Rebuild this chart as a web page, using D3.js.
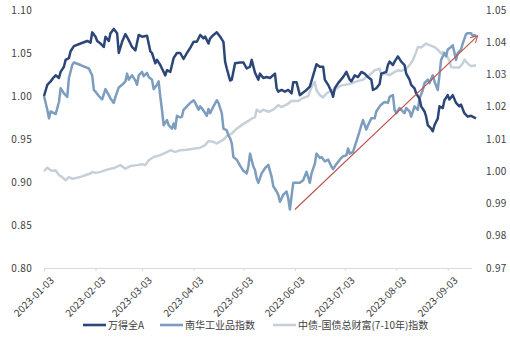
<!DOCTYPE html>
<html>
<head>
<meta charset="utf-8">
<script src="https://cdn.jsdelivr.net/npm/d3@7"></script>
<style>
  html, body { margin: 0; padding: 0; background: #fff; }
  svg { display: block; }
  text { font-family: "Noto Sans CJK SC", "Noto Sans", sans-serif; }
</style>
</head>
<body>
<svg id="chart" width="510" height="341"></svg>
<script>
// Series names (legend order)
const seriesNames = ["万得全A", "南华工业品指数", "中债-国债总财富(7-10年)指数"];

// 万得全A (left axis), normalised to 2023-01-03 = 1
const windA = [
  ["2023-01-03",1.000],["2023-01-05",1.013],["2023-01-07",1.017],["2023-01-09",1.022],["2023-01-10",1.024],
  ["2023-01-12",1.021],["2023-01-13",1.028],["2023-01-15",1.034],["2023-01-16",1.042],["2023-01-18",1.044],
  ["2023-01-19",1.052],["2023-01-21",1.058],["2023-01-25",1.061],["2023-01-29",1.064],["2023-01-31",1.062],
  ["2023-02-01",1.074],["2023-02-03",1.069],["2023-02-04",1.064],["2023-02-06",1.061],["2023-02-08",1.057],
  ["2023-02-09",1.069],["2023-02-11",1.064],["2023-02-12",1.073],["2023-02-14",1.078],["2023-02-16",1.073],
  ["2023-02-17",1.050],["2023-02-19",1.063],["2023-02-21",1.072],["2023-02-23",1.065],["2023-02-25",1.057],
  ["2023-02-27",1.053],["2023-03-01",1.071],["2023-03-03",1.069],["2023-03-06",1.070],["2023-03-08",1.052],
  ["2023-03-09",1.050],["2023-03-11",1.038],["2023-03-12",1.042],["2023-03-14",1.036],["2023-03-15",1.032],
  ["2023-03-17",1.024],["2023-03-18",1.030],["2023-03-20",1.028],["2023-03-22",1.044],["2023-03-24",1.050],
  ["2023-03-26",1.050],["2023-03-28",1.043],["2023-03-30",1.050],["2023-04-01",1.056],["2023-04-03",1.063],
  ["2023-04-05",1.063],["2023-04-07",1.071],["2023-04-09",1.067],["2023-04-10",1.069],["2023-04-12",1.061],
  ["2023-04-13",1.067],["2023-04-15",1.071],["2023-04-17",1.074],["2023-04-19",1.069],["2023-04-21",1.063],
  ["2023-04-22",1.040],["2023-04-23",1.032],["2023-04-25",1.018],["2023-04-26",1.019],["2023-04-28",1.038],
  ["2023-05-01",1.039],["2023-05-03",1.039],["2023-05-05",1.032],["2023-05-07",1.034],["2023-05-08",1.042],
  ["2023-05-10",1.027],["2023-05-12",1.019],["2023-05-13",1.026],["2023-05-15",1.021],["2023-05-17",1.022],
  ["2023-05-19",1.021],["2023-05-22",1.026],["2023-05-23",1.009],["2023-05-24",1.005],["2023-05-26",1.007],
  ["2023-05-28",1.005],["2023-05-30",1.007],["2023-06-01",1.003],["2023-06-02",1.016],["2023-06-04",1.016],
  ["2023-06-06",1.001],["2023-06-08",1.004],["2023-06-10",1.007],["2023-06-12",1.011],["2023-06-14",1.024],
  ["2023-06-16",1.037],["2023-06-18",1.034],["2023-06-20",1.034],["2023-06-21",1.019],["2023-06-23",1.013],
  ["2023-06-25",1.005],["2023-06-26",0.999],["2023-06-27",1.009],["2023-06-29",1.015],["2023-07-02",1.022],
  ["2023-07-04",1.028],["2023-07-06",1.019],["2023-07-07",1.017],["2023-07-09",1.024],["2023-07-11",1.022],
  ["2023-07-13",1.028],["2023-07-15",1.026],["2023-07-17",1.022],["2023-07-19",1.019],["2023-07-20",1.007],
  ["2023-07-22",1.009],["2023-07-24",1.014],["2023-07-25",1.026],["2023-07-28",1.028],["2023-07-29",1.036],
  ["2023-07-30",1.040],["2023-08-01",1.036],["2023-08-02",1.040],["2023-08-04",1.046],["2023-08-06",1.040],
  ["2023-08-08",1.036],["2023-08-09",1.026],["2023-08-11",1.019],["2023-08-12",1.013],["2023-08-14",1.009],
  ["2023-08-15",1.003],["2023-08-17",0.997],["2023-08-18",0.988],["2023-08-20",0.982],["2023-08-21",0.976],
  ["2023-08-22",0.966],["2023-08-24",0.962],["2023-08-25",0.959],["2023-08-26",0.966],["2023-08-28",0.974],
  ["2023-08-29",0.988],["2023-08-31",0.986],["2023-09-01",0.995],["2023-09-03",1.001],["2023-09-04",0.996],
  ["2023-09-06",1.001],["2023-09-08",0.992],["2023-09-10",0.988],["2023-09-11",0.990],["2023-09-13",0.980],
  ["2023-09-15",0.976],["2023-09-17",0.977],["2023-09-20",0.974]
];

// 南华工业品指数 (left axis)
const nanhua = [
  ["2023-01-03",1.000],["2023-01-05",0.984],["2023-01-06",0.974],["2023-01-07",0.982],["2023-01-09",0.980],
  ["2023-01-10",0.979],["2023-01-12",0.993],["2023-01-13",1.009],["2023-01-15",1.003],["2023-01-17",0.999],
  ["2023-01-18",1.021],["2023-01-20",1.036],["2023-01-21",1.039],["2023-01-25",1.036],["2023-01-30",1.032],
  ["2023-02-01",1.024],["2023-02-02",1.007],["2023-02-03",1.005],["2023-02-05",1.000],["2023-02-07",0.996],
  ["2023-02-09",1.008],["2023-02-11",1.001],["2023-02-12",0.997],["2023-02-14",0.992],["2023-02-15",0.999],
  ["2023-02-17",1.010],["2023-02-19",1.013],["2023-02-21",1.017],["2023-02-22",1.026],["2023-02-23",1.019],
  ["2023-02-25",1.024],["2023-02-27",1.018],["2023-02-28",1.013],["2023-03-01",1.024],["2023-03-03",1.028],
  ["2023-03-04",1.023],["2023-03-06",1.027],["2023-03-07",1.022],["2023-03-09",1.019],["2023-03-10",1.008],
  ["2023-03-12",1.013],["2023-03-13",1.017],["2023-03-14",0.999],["2023-03-15",0.984],["2023-03-16",0.966],
  ["2023-03-18",0.972],["2023-03-19",0.966],["2023-03-21",0.962],["2023-03-22",0.968],["2023-03-23",0.962],
  ["2023-03-24",0.977],["2023-03-26",0.975],["2023-03-27",0.976],["2023-03-28",0.984],["2023-03-30",0.988],
  ["2023-04-01",0.992],["2023-04-03",0.995],["2023-04-04",0.992],["2023-04-06",0.984],["2023-04-07",0.988],
  ["2023-04-09",0.983],["2023-04-11",0.977],["2023-04-12",0.985],["2023-04-13",0.980],["2023-04-15",0.988],
  ["2023-04-17",0.995],["2023-04-18",0.992],["2023-04-20",0.980],["2023-04-21",0.962],["2023-04-23",0.960],
  ["2023-04-24",0.954],["2023-04-25",0.951],["2023-04-26",0.945],["2023-04-27",0.929],["2023-04-29",0.926],
  ["2023-05-01",0.919],["2023-05-03",0.913],["2023-05-05",0.910],["2023-05-06",0.918],["2023-05-07",0.933],
  ["2023-05-09",0.918],["2023-05-10",0.914],["2023-05-11",0.904],["2023-05-12",0.899],["2023-05-14",0.910],
  ["2023-05-16",0.916],["2023-05-18",0.920],["2023-05-20",0.906],["2023-05-21",0.895],["2023-05-23",0.889],
  ["2023-05-24",0.885],["2023-05-25",0.877],["2023-05-27",0.885],["2023-05-29",0.889],["2023-05-30",0.881],
  ["2023-05-31",0.868],["2023-06-02",0.899],["2023-06-04",0.899],["2023-06-06",0.899],["2023-06-08",0.902],
  ["2023-06-10",0.912],["2023-06-12",0.899],["2023-06-13",0.910],["2023-06-15",0.921],["2023-06-16",0.933],
  ["2023-06-18",0.928],["2023-06-19",0.929],["2023-06-21",0.924],["2023-06-23",0.926],["2023-06-25",0.918],
  ["2023-06-26",0.915],["2023-06-28",0.921],["2023-06-30",0.926],["2023-07-02",0.930],["2023-07-04",0.931],
  ["2023-07-05",0.939],["2023-07-06",0.933],["2023-07-08",0.935],["2023-07-09",0.941],["2023-07-11",0.953],
  ["2023-07-13",0.966],["2023-07-14",0.972],["2023-07-16",0.961],["2023-07-17",0.966],["2023-07-19",0.974],
  ["2023-07-21",0.974],["2023-07-22",0.982],["2023-07-24",0.988],["2023-07-25",0.990],["2023-07-27",0.993],
  ["2023-07-29",0.992],["2023-07-30",0.999],["2023-08-01",1.001],["2023-08-02",0.984],["2023-08-03",0.980],
  ["2023-08-05",0.986],["2023-08-06",0.984],["2023-08-08",0.980],["2023-08-09",0.986],["2023-08-11",0.982],
  ["2023-08-12",0.976],["2023-08-14",0.988],["2023-08-16",0.984],["2023-08-17",0.997],["2023-08-19",1.007],
  ["2023-08-20",1.015],["2023-08-22",1.019],["2023-08-23",1.015],["2023-08-25",1.024],["2023-08-26",1.017],
  ["2023-08-28",1.007],["2023-08-29",1.024],["2023-08-30",1.042],["2023-09-01",1.050],["2023-09-02",1.046],
  ["2023-09-03",1.054],["2023-09-05",1.057],["2023-09-06",1.059],["2023-09-08",1.042],["2023-09-09",1.050],
  ["2023-09-11",1.054],["2023-09-12",1.061],["2023-09-14",1.072],["2023-09-15",1.073],["2023-09-17",1.073],
  ["2023-09-18",1.070],["2023-09-20",1.071]
];

// 中债-国债总财富(7-10年)指数 (right axis)
const cbond = [
  ["2023-01-03",1.0000],["2023-01-05",1.0011],["2023-01-07",1.0003],["2023-01-09",1.0001],["2023-01-10",1.0003],
  ["2023-01-12",0.9988],["2023-01-14",0.9982],["2023-01-16",0.9972],["2023-01-18",0.9982],["2023-01-20",0.9977],
  ["2023-01-23",0.9980],["2023-01-26",0.9984],["2023-01-29",0.9990],["2023-01-31",0.9993],["2023-02-01",0.9998],
  ["2023-02-03",0.9995],["2023-02-06",0.9998],["2023-02-10",1.0005],["2023-02-14",1.0010],["2023-02-18",1.0019],
  ["2023-02-21",1.0008],["2023-02-24",1.0016],["2023-02-28",1.0019],["2023-03-03",1.0022],["2023-03-05",1.0019],
  ["2023-03-07",1.0034],["2023-03-10",1.0044],["2023-03-14",1.0050],["2023-03-17",1.0057],["2023-03-20",1.0065],
  ["2023-03-23",1.0060],["2023-03-26",1.0065],["2023-03-30",1.0067],["2023-04-03",1.0070],["2023-04-07",1.0073],
  ["2023-04-10",1.0081],["2023-04-12",1.0094],["2023-04-15",1.0091],["2023-04-17",1.0086],["2023-04-21",1.0098],
  ["2023-04-23",1.0109],["2023-04-26",1.0117],["2023-04-29",1.0132],["2023-05-02",1.0143],["2023-05-05",1.0153],
  ["2023-05-08",1.0163],["2023-05-10",1.0168],["2023-05-11",1.0191],["2023-05-13",1.0184],["2023-05-15",1.0191],
  ["2023-05-18",1.0184],["2023-05-21",1.0191],["2023-05-24",1.0205],["2023-05-26",1.0199],["2023-05-30",1.0210],
  ["2023-06-01",1.0218],["2023-06-05",1.0218],["2023-06-07",1.0225],["2023-06-11",1.0233],["2023-06-13",1.0261],
  ["2023-06-15",1.0277],["2023-06-16",1.0251],["2023-06-18",1.0236],["2023-06-20",1.0229],["2023-06-22",1.0241],
  ["2023-06-25",1.0251],["2023-06-27",1.0253],["2023-06-30",1.0264],["2023-07-02",1.0267],["2023-07-05",1.0270],
  ["2023-07-08",1.0274],["2023-07-11",1.0280],["2023-07-14",1.0284],["2023-07-16",1.0292],["2023-07-19",1.0303],
  ["2023-07-21",1.0313],["2023-07-24",1.0318],["2023-07-25",1.0298],["2023-07-27",1.0303],["2023-07-30",1.0298],
  ["2023-08-01",1.0305],["2023-08-04",1.0313],["2023-08-06",1.0311],["2023-08-09",1.0318],["2023-08-11",1.0329],
  ["2023-08-13",1.0344],["2023-08-15",1.0370],["2023-08-16",1.0385],["2023-08-18",1.0384],["2023-08-21",1.0396],
  ["2023-08-23",1.0391],["2023-08-26",1.0385],["2023-08-28",1.0377],["2023-08-30",1.0365],["2023-08-31",1.0370],
  ["2023-09-02",1.0360],["2023-09-04",1.0344],["2023-09-05",1.0323],["2023-09-07",1.0322],["2023-09-10",1.0322],
  ["2023-09-12",1.0334],["2023-09-13",1.0346],["2023-09-15",1.0334],["2023-09-17",1.0326],["2023-09-20",1.0329]
];

// Trend arrow drawn over the industrial commodity index (left axis)
const trendArrow = [["2023-06-03", 0.868], ["2023-09-21", 1.070]];

// Axis ticks
const xTickLabels = ["2023-01-03","2023-02-03","2023-03-03","2023-04-03","2023-05-03",
                     "2023-06-03","2023-07-03","2023-08-03","2023-09-03"];
const leftTicks  = [0.80, 0.85, 0.90, 0.95, 1.00, 1.05, 1.10];
const rightTicks = [0.97, 0.98, 0.99, 1.00, 1.01, 1.02, 1.03, 1.04, 1.05];
const xDomain = ["2023-01-03", "2023-09-20"];

const colors = ["#2c4678", "#7c9dbd", "#c6d0d9"];

const parse = d3.timeParse("%Y-%m-%d");
const svg = d3.select("#chart");

const x = d3.scaleTime().domain(xDomain.map(parse)).range([44, 476]);
const yL = d3.scaleLinear().domain([0.80, 1.10]).range([268, 10]);
const yR = d3.scaleLinear().domain([0.97, 1.05]).range([268, 10]);

// Bottom axis
const xAxis = d3.axisBottom(x)
  .tickValues(xTickLabels.map(parse))
  .tickFormat(d3.timeFormat("%Y-%m-%d"))
  .tickSizeOuter(0).tickSizeInner(3);
const gx = svg.append("g").attr("transform", "translate(0,268)").call(xAxis);
gx.select(".domain").attr("stroke", "#d9d9d9").attr("d", "M44.5,0.5H472");
gx.selectAll(".tick line").attr("stroke", "#d9d9d9");
gx.selectAll(".tick text")
  .attr("fill", "#404040").attr("font-size", 10)
  .attr("text-anchor", "end")
  .attr("transform", "translate(3,6) rotate(-45)")
  .attr("dx", 0).attr("dy", "0.6em").attr("y", 4).attr("x", 0);

// Left axis (labels only)
const gl = svg.append("g").attr("transform", "translate(32,0)")
  .call(d3.axisLeft(yL).tickValues(leftTicks).tickFormat(d3.format(".2f")).tickSize(0).tickPadding(0));
gl.select(".domain").remove();
gl.selectAll("text").attr("fill", "#404040").attr("font-size", 10).attr("letter-spacing", "0.3px");

// Right axis (labels only)
const gr = svg.append("g").attr("transform", "translate(486,0)")
  .call(d3.axisRight(yR).tickValues(rightTicks).tickFormat(d3.format(".2f")).tickSize(0).tickPadding(0));
gr.select(".domain").remove();
gr.selectAll("text").attr("fill", "#404040").attr("font-size", 10).attr("letter-spacing", "0.3px");

// Lines
const lineL = d3.line().x(d => x(parse(d[0]))).y(d => yL(d[1]));
const lineR = d3.line().x(d => x(parse(d[0]))).y(d => yR(d[1]));

svg.append("path").datum(cbond).attr("d", lineR)
  .attr("fill", "none").attr("stroke", colors[2]).attr("stroke-width", 2.5).attr("stroke-linejoin", "round");
svg.append("path").datum(nanhua).attr("d", lineL)
  .attr("fill", "none").attr("stroke", colors[1]).attr("stroke-width", 2.5).attr("stroke-linejoin", "round");
svg.append("path").datum(windA).attr("d", lineL)
  .attr("fill", "none").attr("stroke", colors[0]).attr("stroke-width", 2.5).attr("stroke-linejoin", "round");

// Trend arrow
svg.append("defs").append("marker")
  .attr("id", "arrowHead").attr("viewBox", "0 0 10 10")
  .attr("refX", 9).attr("refY", 5)
  .attr("markerWidth", 8).attr("markerHeight", 8).attr("markerUnits", "userSpaceOnUse")
  .attr("orient", "auto")
  .append("path").attr("d", "M0,0 L9,5 L0,10")
  .attr("fill", "none").attr("stroke", "#c0504d").attr("stroke-width", 1.2);
svg.append("line")
  .attr("x1", x(parse(trendArrow[0][0]))).attr("y1", yL(trendArrow[0][1]))
  .attr("x2", x(parse(trendArrow[1][0]))).attr("y2", yL(trendArrow[1][1]))
  .attr("stroke", "#c0504d").attr("stroke-width", 1.1)
  .attr("marker-end", "url(#arrowHead)");

// Legend
const legendX = [83, 160, 273];
const lg = svg.append("g").attr("transform", "translate(0,325)");
seriesNames.forEach((name, i) => {
  lg.append("line").attr("x1", legendX[i]).attr("x2", legendX[i] + 23)
    .attr("y1", 0).attr("y2", 0).attr("stroke", colors[i]).attr("stroke-width", 2.6);
  lg.append("text").attr("x", legendX[i] + 25).attr("y", 0).attr("dy", "0.35em")
    .attr("font-size", 10).attr("fill", "#404040").text(name);
});
</script>
</body>
</html>
